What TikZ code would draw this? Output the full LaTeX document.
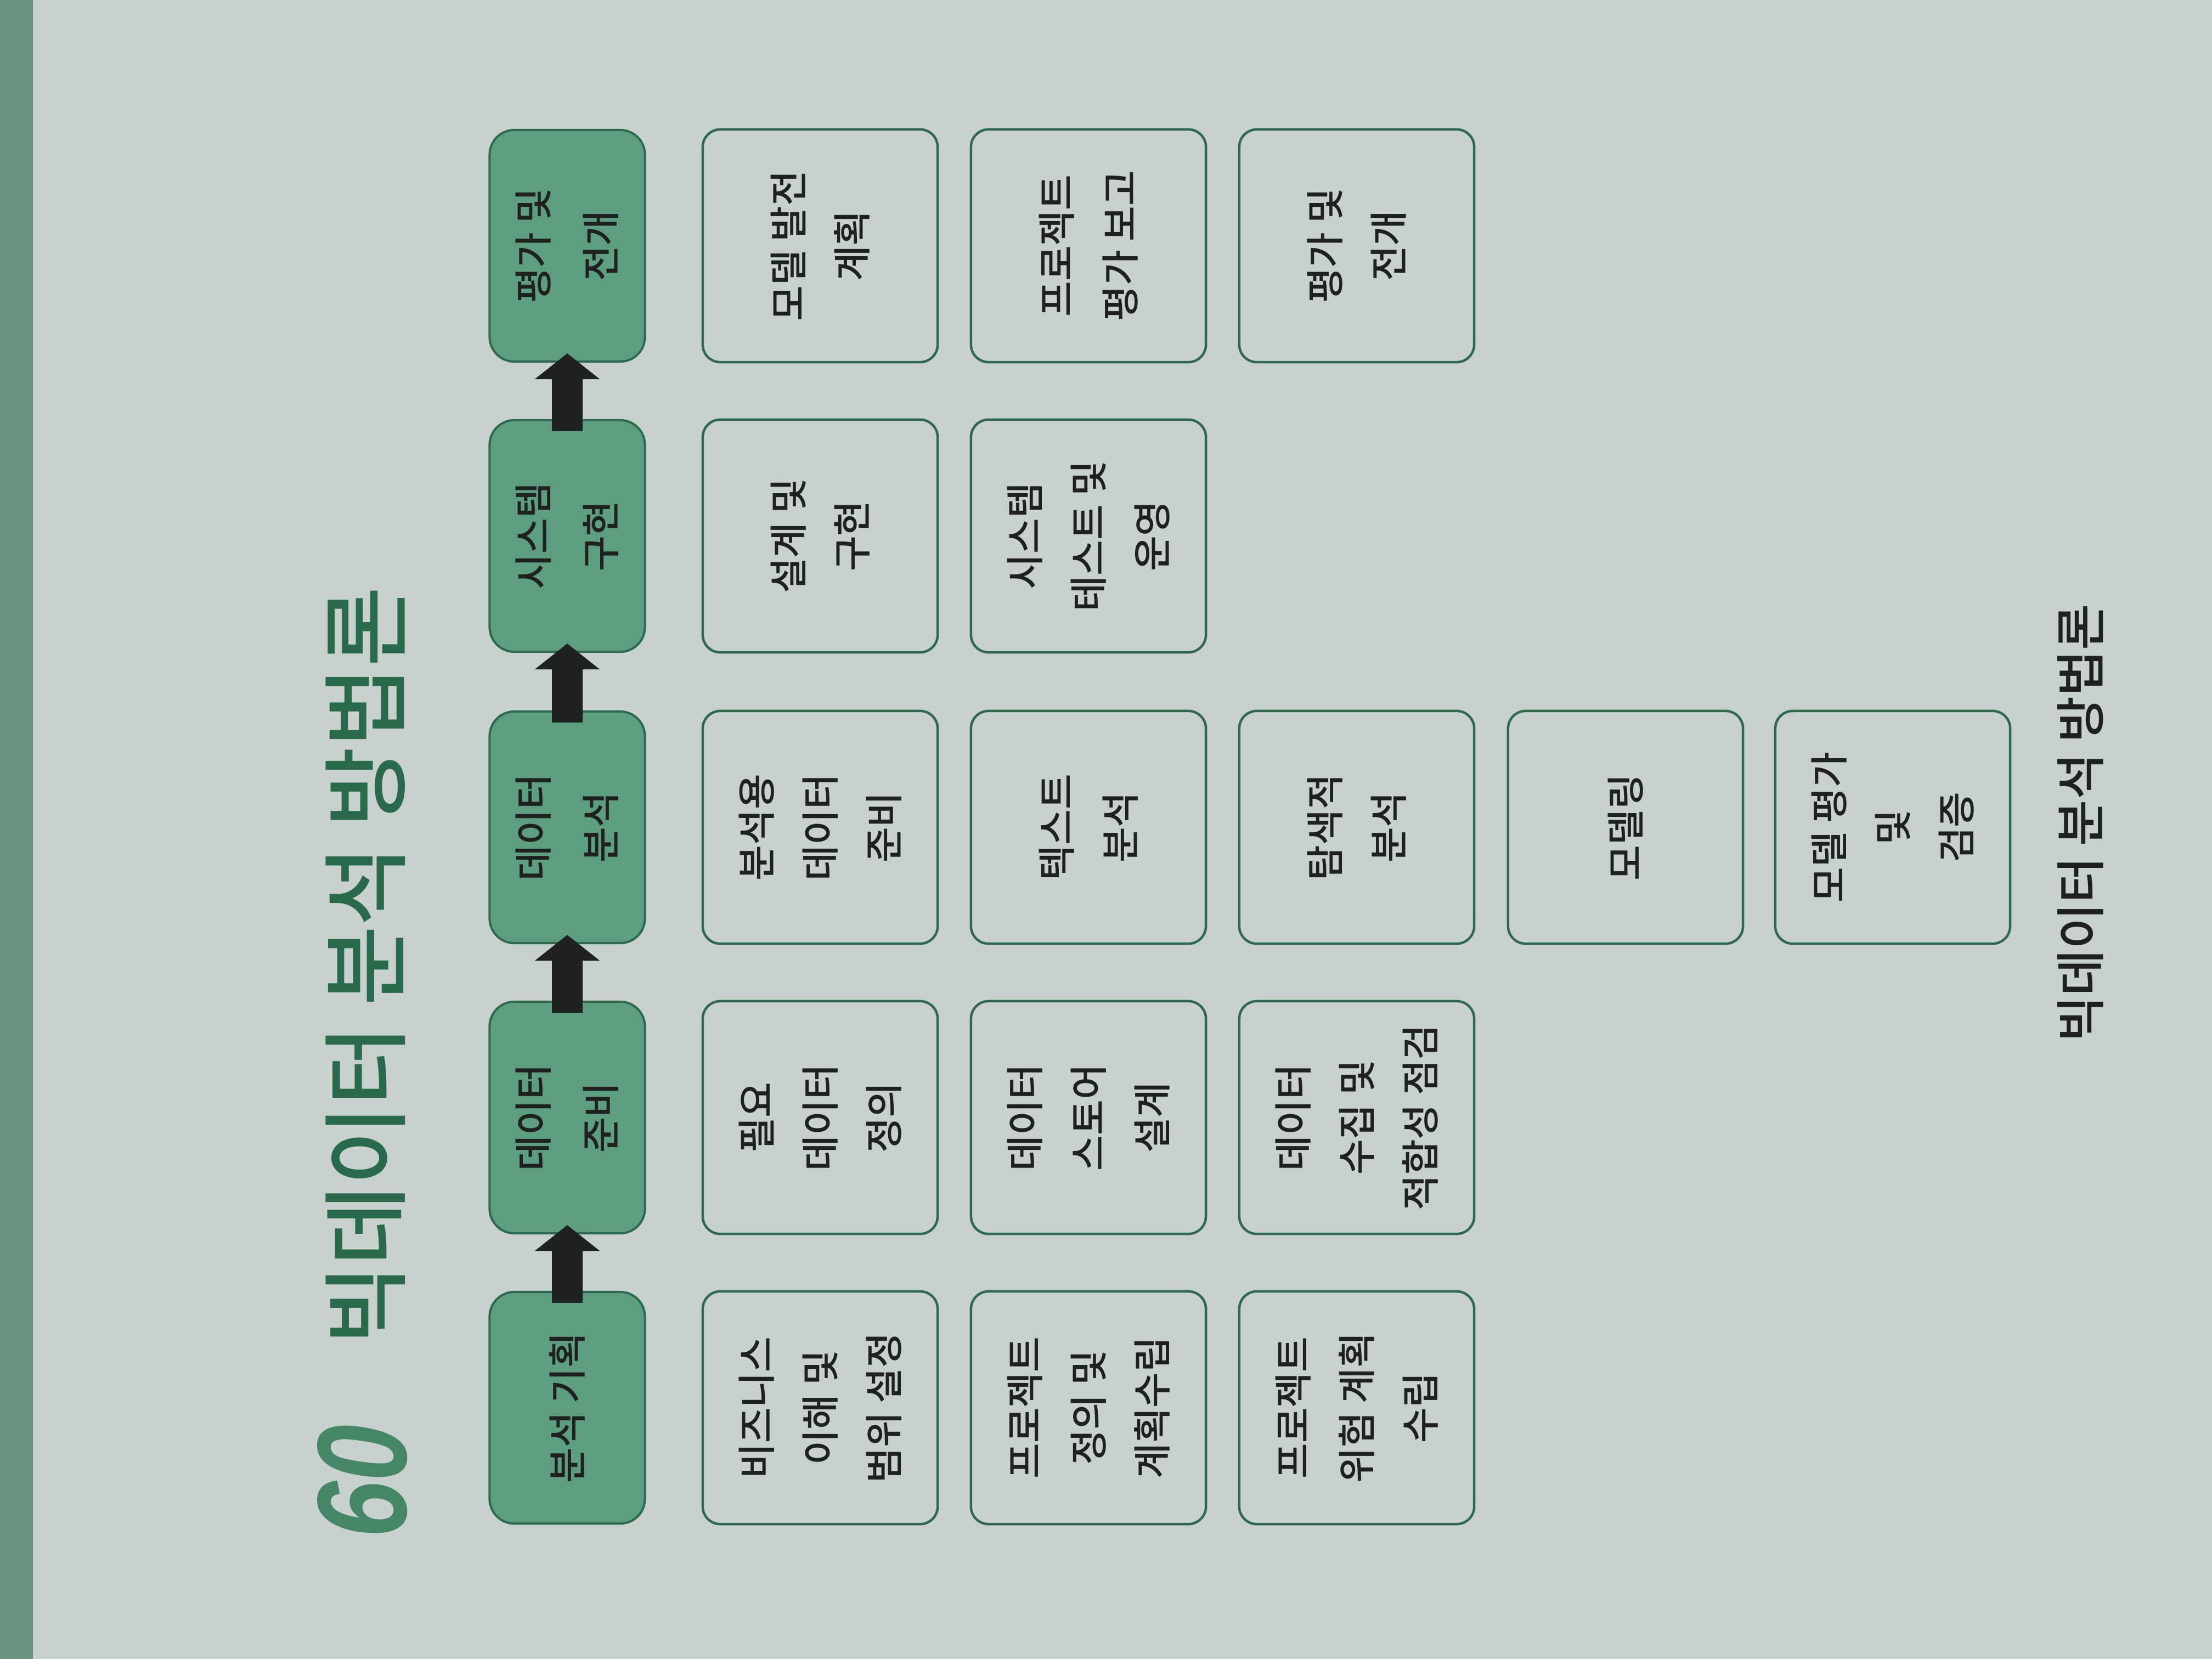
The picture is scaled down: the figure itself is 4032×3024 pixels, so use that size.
\documentclass[tikz,border=0pt]{standalone}
\usepackage{fontspec}
\setmainfont{Noto Sans CJK KR}[UprightFont={* Medium}]
\newfontfamily\headfont{Noto Sans CJK KR}[UprightFont={* Medium}]
\newfontfamily\numfont[FakeStretch=0.8]{Liberation Sans}
\usetikzlibrary{arrows.meta}

\definecolor{pagebg}{HTML}{C8D1CD}
\definecolor{spine}{HTML}{68947F}
\definecolor{phasefill}{HTML}{5E9E80}
\definecolor{phaseline}{HTML}{2B6A4E}
\definecolor{taskline}{HTML}{2F6A50}
\definecolor{titlegreen}{HTML}{2A6A4C}
\definecolor{numgreen}{HTML}{458666}
\definecolor{ink}{HTML}{1E211F}

\begin{document}
\begin{tikzpicture}[x=0.01cm, y=-0.01cm,
  phase/.style={draw=phaseline, fill=phasefill, line width=0.04cm,
    rounded corners=0.45cm, rotate=90, minimum width=4.22cm,
    minimum height=2.83cm, inner sep=0pt, align=center, text=ink,
    font=\fontsize{20pt}{35pt}\selectfont},
  task/.style={draw=taskline, line width=0.045cm, rounded corners=0.32cm,
    rotate=90, minimum width=4.24cm, minimum height=4.28cm, inner sep=0pt,
    align=center, text=ink, font=\fontsize{20pt}{33pt}\selectfont},
  flow/.style={draw=ink, line width=0.56cm,
    -{Triangle[width=1.16cm,length=0.47cm]},
    shorten <=-0.22cm, shorten >=-0.17cm}
]
% page and spine edge
\fill[pagebg] (0,0) rectangle (4032,3024);
\fill[spine] (0,0) rectangle (60,3024);
\useasboundingbox (0,0) rectangle (4032,3024);

% heading
\node[rotate=90, text=numgreen,
  font=\numfont\fontsize{66pt}{66pt}\selectfont\bfseries\itshape] (num) at (661,2700) {60};
\node[rotate=90, text=titlegreen,
  font=\headfont\fontsize{45pt}{45pt}\selectfont] (title) at (666,1761) {빅데이터 분석 방법론};

% phases
\node[phase] (p1) at (1034,2566) {분석 기획};
\node[phase] (p2) at (1034,2037) {데이터\\준비};
\node[phase] (p3) at (1034,1508) {데이터\\분석};
\node[phase] (p4) at (1034,977)  {시스템\\구현};
\node[phase] (p5) at (1034,448)  {평가 및\\전개};

% tasks: 분석 기획
\node[task] (a1) at (1495,2566) {비즈니스\\이해 및\\범위 설정};
\node[task] (a2) at (1984,2566) {프로젝트\\정의 및\\계획수립};
\node[task] (a3) at (2473,2566) {프로젝트\\위험 계획\\수립};
% tasks: 데이터 준비
\node[task] (b1) at (1495,2037) {필요\\데이터\\정의};
\node[task] (b2) at (1984,2037) {데이터\\스토어\\설계};
\node[task] (b3) at (2473,2037) {데이터\\수집 및\\적합성 점검};
% tasks: 데이터 분석
\node[task] (c1) at (1495,1508) {분석용\\데이터\\준비};
\node[task] (c2) at (1984,1508) {텍스트\\분석};
\node[task] (c3) at (2473,1508) {탐색적\\분석};
\node[task] (c4) at (2963,1508) {모델링};
\node[task] (c5) at (3450,1508) {모델 평가\\및\\검증};
% tasks: 시스템 구현
\node[task] (d1) at (1495,977) {설계 및\\구현};
\node[task] (d2) at (1984,977) {시스템\\테스트 및\\운영};
% tasks: 평가 및 전개
\node[task] (e1) at (1495,448) {모델 발전\\계획};
\node[task] (e2) at (1984,448) {프로젝트\\평가 보고};
\node[task] (e3) at (2473,448) {평가 및\\전개};

% flow between phases
\draw[flow] (p1.east) -- (p2.west);
\draw[flow] (p2.east) -- (p3.west);
\draw[flow] (p3.east) -- (p4.west);
\draw[flow] (p4.east) -- (p5.west);

% caption
\node[rotate=90, text=ink, font=\fontsize{26pt}{26pt}\selectfont] (caption) at (3792,1500) {빅데이터 분석 방법론};
\end{tikzpicture}
\end{document}
